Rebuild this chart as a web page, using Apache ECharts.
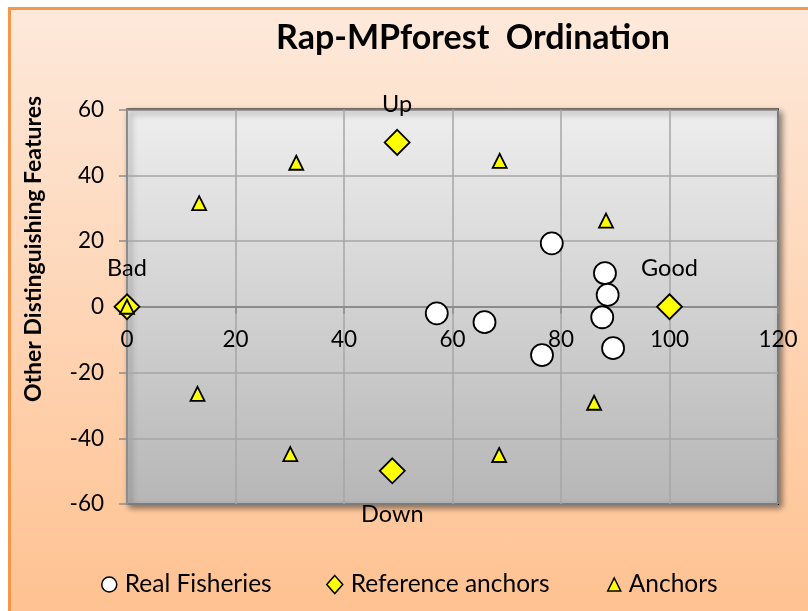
<!DOCTYPE html>
<html>
<head>
<meta charset="utf-8">
<script src="https://cdn.jsdelivr.net/npm/echarts@6/dist/echarts.min.js"></script>
<style>
  html, body { margin: 0; padding: 0; background: #ffffff; overflow: hidden; width: 808px; height: 611px; }
  #box { position: absolute; left: 8px; top: 7px; width: 830px; height: 640px;
         border: 3px solid #f79646; background: linear-gradient(#fde9db, #ffbf8c); }
  #main { position: absolute; left: 0; top: 0; width: 808px; height: 611px; }
</style>
</head>
<body>
<div id="box"></div>
<div id="main"></div>
<script>
const titleText = 'Rap-MPforest  Ordination';
const yAxisTitle = 'Other Distinguishing Features';
const seriesNames = ['Real Fisheries', 'Reference anchors', 'Anchors'];

const fishX = [57.1, 65.9, 76.5, 78.3, 88.1, 88.6, 87.6, 89.6];
const fishY = [-2.0, -4.7, -14.7, 19.3, 10.2, 3.6, -3.2, -12.6];

const refNames = ['Bad', 'Good', 'Up', 'Down'];
const refX = [0, 100, 49.8, 48.9];
const refY = [0, 0, 50, -49.9];

const anchorX = [0, 13.3, 31.2, 68.7, 88.3, 13.0, 30.1, 68.6, 86.1];
const anchorY = [0, 31.5, 43.8, 44.4, 26.2, -26.5, -44.8, -45.1, -29.2];

const xMin = 0, xMax = 120, xStep = 20;
const yMin = -60, yMax = 60, yStep = 20;

const FONT = 'Lato';
const GRID_TOP = 109.5, GRID_H = 394.5;
const chart = echarts.init(document.getElementById('main'), null, { renderer: 'canvas' });

const fishData = fishX.map((x, i) => [x, fishY[i]]);
const anchorData = anchorX.map((x, i) => [x, anchorY[i]]);
const refData = refX.map((x, i) => {
  const isDown = refNames[i] === 'Down';
  return {
    name: refNames[i],
    value: [x, refY[i]],
    label: { position: isDown ? 'bottom' : 'top', distance: isDown ? 18 : 13 }
  };
});

// pixel offset so the x axis (line + labels) sits on y = 0
const zeroOffset = -GRID_H * (0 - yMin) / (yMax - yMin);

function legendAt(left, name, icon, w, h, fill) {
  return {
    left: left, top: 567, orient: 'horizontal',
    data: [{ name: name, icon: icon }],
    itemWidth: w, itemHeight: h, itemGap: 0,
    textStyle: { fontFamily: FONT, fontSize: 24.5, color: '#000', padding: [0, 0, 0, 3] },
    itemStyle: { color: fill, borderColor: '#000', borderWidth: 1.5 },
    selectedMode: false
  };
}

chart.setOption({
  backgroundColor: 'transparent',
  animation: false,
  title: {
    text: titleText, left: 468, top: 16, textAlign: 'center',
    textStyle: { fontFamily: FONT, fontSize: 34, fontWeight: 'bold', color: '#000' }
  },
  graphic: [{
    type: 'text', x: 34, y: 249, rotation: Math.PI / 2,
    style: { text: yAxisTitle, fontFamily: FONT, fontSize: 23, fontWeight: 'bold', fill: '#000',
             align: 'center', verticalAlign: 'middle' }
  }],
  legend: [
    legendAt(96, seriesNames[0], 'circle', 15, 15, '#ffffff'),
    legendAt(321, seriesNames[1], 'diamond', 16, 18, '#ffff00'),
    legendAt(602, seriesNames[2], 'triangle', 13, 13, '#ffff00')
  ],
  grid: {
    left: 127, top: GRID_TOP, width: 651, height: GRID_H,
    show: true,
    backgroundColor: new echarts.graphic.LinearGradient(0, 0, 0, 1, [
      { offset: 0, color: '#eeeeee' }, { offset: 1, color: '#b6b6b6' }
    ]),
    borderColor: '#000', borderWidth: 2,
    shadowColor: 'rgba(0,0,0,0.45)', shadowBlur: 6, shadowOffsetX: 3, shadowOffsetY: 3
  },
  xAxis: {
    type: 'value', min: xMin, max: xMax, interval: xStep,
    position: 'bottom', offset: zeroOffset,
    axisLine: { show: true, onZero: false, lineStyle: { color: '#8c8c8c', width: 2 } },
    axisTick: { show: true, inside: false, length: 7, lineStyle: { color: '#8c8c8c', width: 1.5 } },
    axisLabel: { fontFamily: FONT, fontSize: 22.5, color: '#000', margin: 21 },
    splitLine: { show: true, lineStyle: { color: '#a6a6a6', width: 1.5 } }
  },
  yAxis: {
    type: 'value', min: yMin, max: yMax, interval: yStep,
    axisLine: { show: true, onZero: false, lineStyle: { color: '#8c8c8c', width: 2 } },
    axisTick: { show: true, inside: false, length: 8, lineStyle: { color: '#8c8c8c', width: 1.5 } },
    axisLabel: { fontFamily: FONT, fontSize: 22.5, color: '#000', margin: 23 },
    splitLine: { show: true, lineStyle: { color: '#a6a6a6', width: 1.5 } }
  },
  series: [
    {
      name: seriesNames[0], type: 'scatter', data: fishData,
      symbol: 'circle', symbolSize: 22, z: 3,
      itemStyle: { color: '#ffffff', borderColor: '#000', borderWidth: 1.8, opacity: 1 }
    },
    {
      name: seriesNames[1], type: 'scatter', data: refData,
      symbol: 'diamond', symbolSize: 25, z: 4,
      itemStyle: { color: '#ffff00', borderColor: '#000', borderWidth: 1.8, opacity: 1 },
      label: { show: true, formatter: p => p.name, fontFamily: FONT, fontSize: 23.5, color: '#000' }
    },
    {
      name: seriesNames[2], type: 'scatter', data: anchorData,
      symbol: 'triangle', symbolSize: 14, z: 5,
      itemStyle: { color: '#ffff00', borderColor: '#000', borderWidth: 1.8, opacity: 1 }
    }
  ]
});
</script>
</body>
</html>
